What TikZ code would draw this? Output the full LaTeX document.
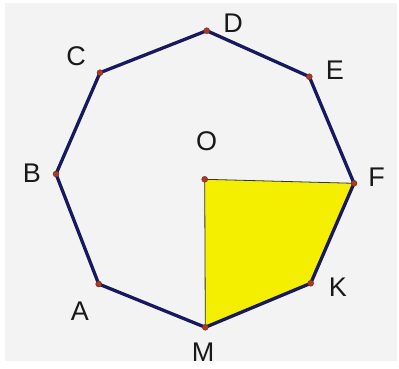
\documentclass[tikz,border=0pt]{standalone}
\usepackage{fontspec}
\setmainfont{Liberation Sans}
\begin{document}
\begin{tikzpicture}[x=1pt,y=-1pt,
  edge/.style={draw=navy,line width=3.3pt,line join=round},
  thin/.style={draw=black!80,line width=0.8pt},
  vtx/.style={circle,fill=dotred,draw=dotred!70!black,line width=0.4pt,inner sep=0pt,minimum size=6pt},
  lab/.style={font=\fontsize{27}{27}\selectfont,text=black!90,inner sep=0pt}]
\definecolor{navy}{HTML}{18185E}
\definecolor{dotred}{HTML}{A83A28}
\definecolor{bg}{HTML}{F3F3F3}
\definecolor{yel}{HTML}{F4EE00}
\useasboundingbox (0,0) rectangle (399,369);
\fill[white] (0,0) rectangle (399,369);
\fill[bg] (5,3) rectangle (397,361);
% points
\coordinate (A) at (98.7,284);
\coordinate (B) at (56,174);
\coordinate (C) at (100,72.7);
\coordinate (D) at (206.7,30.7);
\coordinate (E) at (309.3,76.7);
\coordinate (F) at (354,183.3);
\coordinate (K) at (310.7,283.3);
\coordinate (M) at (205.3,327.3);
\coordinate (O) at (204.7,179.3);
% yellow region
\fill[yel] (O) -- (F) -- (K) -- (M) -- cycle;
\draw[thin] (M) -- (O) -- (F);
% octagon
\draw[edge] (A) -- (B) -- (C) -- (D) -- (E) -- (F) -- (K) -- (M) -- cycle;
% vertices
\foreach \p in {A,B,C,D,E,F,K,M,O} \node[vtx] (v\p) at (\p) {};
% labels
\node[lab] (lA) at (80,311.7) {A};
\node[lab] (lB) at (32,173) {B};
\node[lab] (lC) at (76,56) {C};
\node[lab] (lD) at (233,23) {D};
\node[lab] (lE) at (335,70) {E};
\node[lab] (lF) at (376.5,177) {F};
\node[lab] (lK) at (338,287) {K};
\node[lab] (lM) at (203,352) {M};
\node[lab] (lO) at (206.7,141.7) {O};
\end{tikzpicture}
\end{document}
